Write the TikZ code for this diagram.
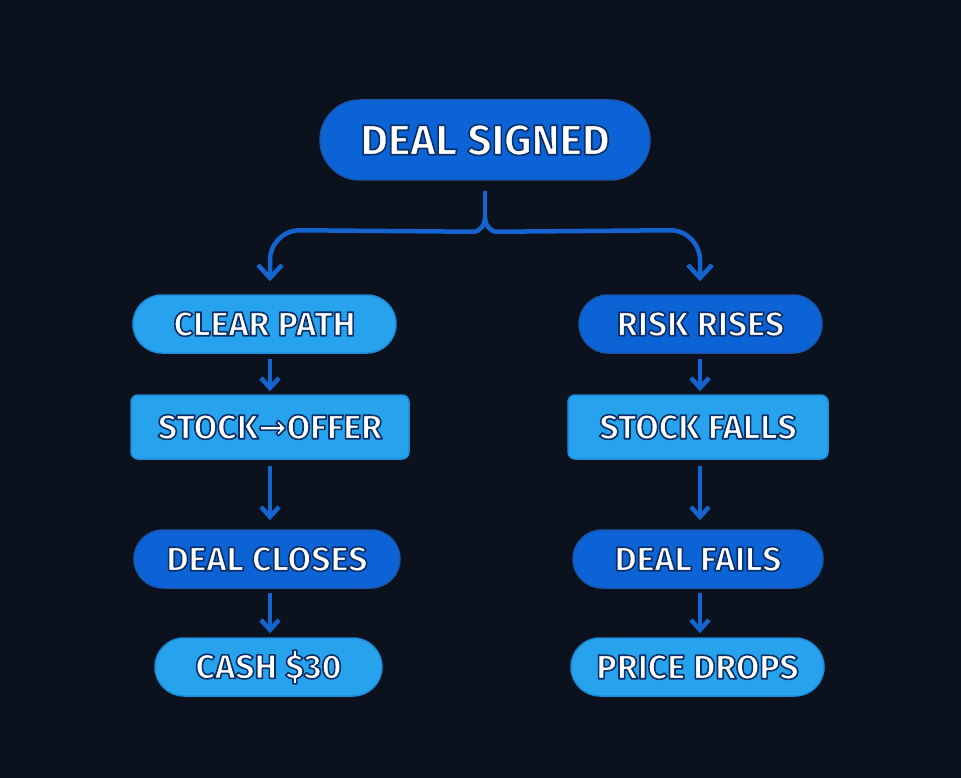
\documentclass[tikz,border=0pt]{standalone}
\usepackage{fontspec}
\setmainfont{Fira Sans}
\newfontfamily\arrowfont{DejaVu Sans}
\usetikzlibrary{arrows.meta,calc}
\definecolor{bg}{HTML}{0B121E}
\definecolor{darkfill}{HTML}{0B63D6}
\definecolor{darkedge}{HTML}{1A55AE}
\definecolor{lightfill}{HTML}{27A3EE}
\definecolor{lightedge}{HTML}{1E8CDA}
\definecolor{conn}{HTML}{1563CE}
% white text with a thin dark navy outline (fill+stroke text render mode)
\newcommand{\lbl}[1]{\special{pdf:literal direct q 0.04 0.18 0.40 RG 1.6 w 1 j 2 Tr}#1\special{pdf:literal direct Q}}
\tikzset{
  box/.style={draw, line width=1.5pt, inner sep=0pt, text=white,
    font=\fontsize{34}{36}\selectfont\bfseries},
  pill/.style={box, rounded corners=29pt, minimum height=58pt},
  rbox/.style={box, rounded corners=7pt, minimum height=64pt},
  darkn/.style={fill=darkfill, draw=darkedge},
  lightn/.style={fill=lightfill, draw=lightedge},
  arr/.style={draw=conn, line width=4.5pt,
    -{Straight Barb[length=10pt,width=18pt,line width=4.5pt]}},
  barr/.style={draw=conn, line width=4.5pt,
    -{Straight Barb[length=13pt,width=24pt,line width=4.5pt]}},
  link/.style={draw=conn, line width=4.5pt}
}
\begin{document}
\begin{tikzpicture}[x=1pt,y=1pt]
\fill[bg] (0,0) rectangle (961,-778);
\useasboundingbox (0,0) rectangle (961,-778);
% nodes
\node[box, darkn, rounded corners=40pt, minimum height=80pt, minimum width=330pt,
  font=\fontsize{42.5}{44}\selectfont\bfseries] (top) at (485,-140) {\lbl{DEAL SIGNED}};
\node[pill, lightn, minimum width=263pt] (clear) at (264.5,-324) {\lbl{CLEAR PATH}};
\node[rbox, lightn, minimum width=278pt] (stock) at (270,-427) {\lbl{STOCK{\arrowfont →}OFFER}};
\node[pill, darkn, minimum width=266pt] (closes) at (267,-559) {\lbl{DEAL CLOSES}};
\node[pill, lightn, minimum width=227pt] (cash) at (268.5,-667) {\lbl{CASH \$30}};
\node[pill, darkn, minimum width=243pt] (risk) at (700.5,-324) {\lbl{RISK RISES}};
\node[rbox, lightn, minimum width=260pt] (falls) at (698,-427) {\lbl{STOCK FALLS}};
\node[pill, darkn, minimum width=250pt] (fails) at (698,-559) {\lbl{DEAL FAILS}};
\node[pill, lightn, minimum width=253pt] (drops) at (697.5,-667) {\lbl{PRICE DROPS}};
\coordinate (lx) at (270,0);
\coordinate (rx) at (700,0);
% branch
\draw[link] ($(top.south)+(0,-10)$) -- ($(top.south)+(0,-36)$);
\draw[barr, shorten >=13pt] ($(top.south)+(0,-36)$) to[out=-90,in=0] ($(top.south)+(-12,-51)$)
  -- ($(clear.north -| lx)+(30,64)$) to[out=180,in=90] ($(clear.north -| lx)+(0,34)$)
  -- (clear.north -| lx);
\draw[barr, shorten >=13pt] ($(top.south)+(0,-36)$) to[out=-90,in=180] ($(top.south)+(12,-51)$)
  -- ($(risk.north -| rx)+(-30,64)$) to[out=0,in=90] ($(risk.north -| rx)+(0,34)$)
  -- (risk.north -| rx);
% left column
\draw[arr, shorten <=5pt, shorten >=3pt] (clear.south -| lx) -- (stock.north -| lx);
\draw[arr, shorten <=6pt, shorten >=9pt] (stock.south -| lx) -- (closes.north -| lx);
\draw[arr, shorten <=4pt, shorten >=4pt] (closes.south -| lx) -- (cash.north -| lx);
% right column
\draw[arr, shorten <=5pt, shorten >=3pt] (risk.south -| rx) -- (falls.north -| rx);
\draw[arr, shorten <=6pt, shorten >=9pt] (falls.south -| rx) -- (fails.north -| rx);
\draw[arr, shorten <=4pt, shorten >=4pt] (fails.south -| rx) -- (drops.north -| rx);
\end{tikzpicture}
\end{document}
